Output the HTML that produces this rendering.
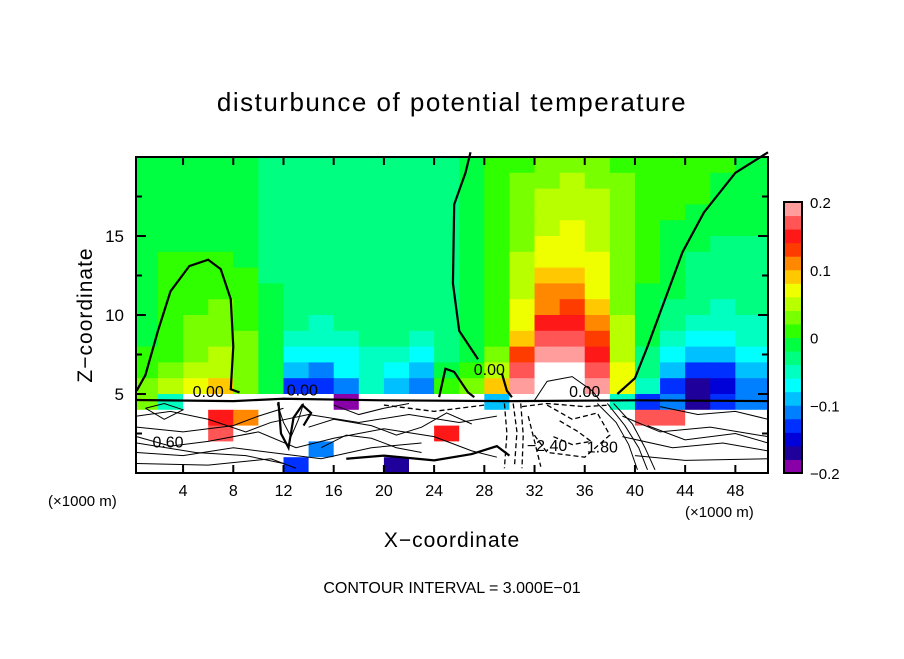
<!DOCTYPE html>
<html><head><meta charset="utf-8"><style>
body{margin:0;background:#fff;}
svg text{font-family:"Liberation Sans",sans-serif;fill:#000;}
</style></head><body>
<svg id="c" width="904" height="654" viewBox="0 0 904 654"></svg>
<script>
const xCols=[1,3,5,7,9,11,13,15,17,19,21,23,25,27,29,31,33,35,37,39,41,43,45,47,49];
const zRows=[19,18,17,16,15,14,13,12,11,10,9,8,7,6,5,4,3,2,1,0];
const theta=[
[-1,-1,-1,-1,-1,-3,-3,-3,-3,-3,-3,-3,-3,-1,1,1,3,3,3,1,1,1,1,1,-1],
[-1,-1,-1,-1,-1,-3,-3,-3,-3,-3,-3,-3,-3,-1,1,3,3,5,3,3,1,1,1,-1,-1],
[-1,-1,-1,-1,-1,-3,-3,-3,-3,-3,-3,-3,-3,-1,1,3,5,5,5,3,1,1,1,-1,-1],
[-1,-1,-1,-1,-1,-3,-3,-3,-3,-3,-3,-3,-3,-1,1,3,5,5,5,3,1,1,-1,-1,-1],
[-1,-1,-1,-1,-1,-3,-3,-3,-3,-3,-3,-3,-3,-1,1,3,5,7,5,3,1,-1,-1,-1,-1],
[-1,-1,-1,-1,-1,-3,-3,-3,-3,-3,-3,-3,-3,-1,1,3,7,7,5,3,1,-1,-1,-3,-3],
[-1,1,1,1,-1,-3,-3,-3,-3,-3,-3,-3,-3,-1,1,5,7,7,7,3,1,-1,-3,-3,-3],
[-1,1,1,1,1,-3,-3,-3,-3,-3,-3,-3,-3,-1,1,5,9,9,7,3,1,-1,-3,-3,-3],
[-1,1,1,1,1,-1,-3,-3,-3,-3,-3,-3,-3,-1,1,5,11,11,7,3,-1,-1,-3,-3,-3],
[-1,1,1,3,1,-1,-3,-3,-3,-3,-3,-3,-3,-1,1,7,11,13,9,3,-1,-3,-3,-5,-3],
[-1,1,3,3,1,-1,-3,-5,-3,-3,-3,-3,-3,-1,1,7,15,15,11,5,-1,-3,-5,-5,-5],
[-1,1,3,3,3,-1,-5,-5,-5,-3,-3,-5,-3,-1,1,9,17,17,13,5,-1,-5,-7,-7,-5],
[1,1,3,5,3,-1,-7,-7,-7,-5,-5,-7,-3,-1,3,13,19,19,15,5,-3,-7,-9,-9,-7],
[1,3,5,5,3,-1,-9,-11,-7,-5,-7,-9,-1,1,5,17,50,50,17,7,-3,-9,-13,-13,-9],
[3,5,7,9,3,-1,-13,-13,-11,-5,-9,-11,1,3,9,19,50,50,19,7,-5,-13,-17,-15,-11],
[3,-5,50,50,50,50,50,50,-19,50,50,50,50,50,-9,50,50,50,50,-5,-13,-11,-17,-13,-11],
[50,50,50,15,11,50,50,50,50,50,50,50,50,50,50,50,50,50,50,50,17,17,50,50,50],
[50,50,50,17,50,50,50,50,50,50,50,50,15,50,50,50,50,50,50,50,50,50,50,50,50],
[50,50,50,50,50,50,50,-11,50,50,50,50,50,50,50,50,50,50,50,50,50,50,50,50,50],
[50,50,50,50,50,50,-13,50,50,50,-17,50,50,50,50,50,50,50,50,50,50,50,50,50,50]];
const bandColors=["#8a00a8","#20009a","#0000d8","#0030ff","#0080ff","#00c0ff","#00ffff","#00ffc0","#00ff80","#00ff40","#30ff00","#78ff00","#b8ff00","#f0ff00","#ffc800","#ff8800","#ff3c00","#ff1818","#ff5555","#ff9c9c"];
const cbTicks=[0.2,0.1,0,-0.1,-0.2];
const cbTickLabels=["0.2","0.1","0","\u22120.1","\u22120.2"];
const xTicks=[4,8,12,16,20,24,28,32,36,40,44,48];
const zTicks=[5,10,15];
const contourZero=[
 [[0.3,5.2],[1,6.2],[2,9],[3,11.5],[4.5,13.1],[6,13.5],[7,12.9],[7.8,11],[8,8],[7.8,5.3],[8.5,5.1]],
 [[26.9,20.3],[26.5,19],[25.6,17],[25.5,12],[26,9],[27.5,7.2]],
 [[29.4,6.3],[29.8,5.2],[30.2,4.8]],
 [[50.6,20.3],[48,19],[45.5,16.5],[43.8,14],[42.4,11],[41,8],[40,6],[38.6,5]],
 [[24.4,4.8],[24.9,6.6],[25.6,6.4],[26.7,5.1],[27.2,4.8]],
 [[0.3,4.62],[8,4.55],[12,4.7],[20,4.6],[30,4.55],[40,4.6],[50.6,4.55]],
 [[17,0.9],[20,1.1],[24,0.8],[27,1.2],[29,1.7],[30,1.1]],
 [[11.6,4.5],[11.8,2.5],[12.4,1.6],[12.8,3.5],[13.5,4.3],[14.2,3.8],[13.6,3.0]]];
const contourPos=[
 [[0.3,2.3],[3,1.7],[6,2.0],[10,2.6],[13,1.6],[16,2.2],[20,2.8],[24,2.3],[27,1.4],[29,1.0]],
 [[0.3,1.3],[4,1.1],[8,1.6],[11,1.3],[15,0.9],[19,1.6],[23,1.9]],
 [[0.3,3.6],[3,3.9],[6,3.4],[9,2.6],[11,3.2],[14,3.7],[18,3.2],[22,3.7],[26,3.2],[29,3.6]],
 [[0.3,0.6],[6,0.5],[11,0.9],[13,0.3]],
 [[0.3,2.9],[4,2.6],[8,3.0],[10,3.6],[12,4.1]],
 [[0.3,1.9],[5,1.3],[9,1.1],[12,0.6]],
 [[14,2.9],[16,3.4],[19,3.0],[21,2.4],[23,2.9],[25,3.8],[27,3.1]],
 [[15,1.6],[17,2.4],[19,2.2],[21,1.6],[23,1.3]],
 [[1,4.1],[2.5,3.4],[4,4.0],[2.5,4.4],[1,4.1]],
 [[16,4.3],[18,3.7],[20,4.1],[22,4.4]],
 [[39,3.6],[42,2.6],[46,2.9],[50.6,2.3]],
 [[39,2.3],[43,1.6],[47,1.9],[50.6,1.4]],
 [[40,1.1],[44,0.8],[50.6,0.9]],
 [[41,3.0],[44,2.1],[48,2.5],[50.6,1.9]],
 [[42,4.2],[45,3.7],[48,3.9],[50.6,3.4]],
 [[32,4.6],[33,5.8],[35,6.1],[36.6,5.2],[37.2,4.6]],
 [[11.5,4.4],[12,3.2],[12.6,2.3],[13.2,3.4],[13.6,4.4]],
 [[37,4.4],[38.5,3.2],[39.5,1.8],[40.2,0.2]],
 [[37.8,4.4],[39.2,3.0],[40.3,1.6],[41,0.2]],
 [[38.3,4.4],[39.8,3.1],[40.8,1.6],[41.6,0.2]]];
const contourNeg=[
 [[31.5,3.6],[32,2.0],[32.5,0.4]],
 [[33,4.3],[35,3.4],[37,3.8],[38,2.4],[36,1.0],[33,1.3],[31.8,2.6]],
 [[34,3.3],[35.5,2.6],[36.5,2.0],[35,1.8],[33.5,2.3]],
 [[31,4.2],[33,4.4],[36,4.2],[38,4.3]],
 [[20,4.3],[24,3.9],[28,4.3]],
 [[30.3,4.4],[30.6,2.6],[30.4,0.4]],
 [[30.9,4.4],[31.1,2.4],[31.0,0.3]],
 [[29.6,4.4],[29.8,2.5],[29.6,0.3]]];

const NS="http://www.w3.org/2000/svg";
const svg=document.getElementById('c');
const L=136,R=768,T=157,B=473;
const X0=0.25,X1=50.6,Z0=0,Z1=20;
function sx(x){return L+(x-X0)/(X1-X0)*(R-L);}
function sz(z){return B-(z-Z0)/(Z1-Z0)*(B-T);}
function el(tag,attrs){const e=document.createElementNS(NS,tag);for(const k in attrs)e.setAttribute(k,attrs[k]);svg.appendChild(e);return e;}
function colorFor(v){const b=Math.floor((v/100+0.2)/0.02);if(b<0||b>19)return "#ffffff";return bandColors[b];}
const gc=el('g',{});


for(let r=0;r<zRows.length;r++){for(let c=0;c<xCols.length;c++){
 const x0=Math.max(X0,xCols[c]-1),x1=(c===xCols.length-1)?X1:xCols[c]+1;
 const z0=zRows[r],z1=Math.min(Z1,zRows[r]+1);
 const rc=document.createElementNS(NS,'rect');
 rc.setAttribute('x',sx(x0));rc.setAttribute('y',sz(z1));
 rc.setAttribute('width',sx(x1)-sx(x0)+0.6);rc.setAttribute('height',sz(z0)-sz(z1)+0.6);
 rc.setAttribute('fill',colorFor(theta[r][c]));
 
 
 gc.appendChild(rc);}}
function poly(pts,w,dash,name){const p=el('polyline',{points:pts.map(q=>sx(q[0])+','+sz(q[1])).join(' '),fill:'none',stroke:'#000','stroke-width':w});
 if(dash)p.setAttribute('stroke-dasharray',dash);
 
 }
contourZero.forEach(c=>poly(c,2.2,null,'zero-contour'));
contourPos.forEach(c=>poly(c,1,null,'positive-contour'));
contourNeg.forEach(c=>poly(c,1.3,'5,3','negative-contour'));
function txt(s,x,y,size,anchor,name,extra){const t=el('text',{x:x,y:y,'font-size':size,'text-anchor':anchor||'start'});t.textContent=s;
 if(extra)for(const k in extra)t.setAttribute(k,extra[k]);
 
 return t;}
[["0.00",6,4.8],["0.60",2.8,1.6],["0.00",13.5,4.9],["\u22122.40",33,1.4],["0.00",36,4.8],["1.80",37.4,1.3],["0.00",28.4,6.2]].forEach(l=>{
 txt(l[0],sx(l[1]),sz(l[2]),16,'middle','contour-label');});
const fr=el('rect',{x:L,y:T,width:R-L,height:B-T,fill:'none',stroke:'#000','stroke-width':2});


xTicks.forEach(v=>{const x=sx(v);
 el('line',{x1:x,y1:B,x2:x,y2:B-8,stroke:'#000','stroke-width':2});
 el('line',{x1:x,y1:T,x2:x,y2:T+8,stroke:'#000','stroke-width':2});
 txt(String(v),x,B+23,16,'middle','x-tick-label');});
for(let z=2.5;z<20;z+=2.5){const y=sz(z),len=(z%5===0)?10:6;
 el('line',{x1:L,y1:y,x2:L+len,y2:y,stroke:'#000','stroke-width':2});
 el('line',{x1:R,y1:y,x2:R-len,y2:y,stroke:'#000','stroke-width':2});}
zTicks.forEach(v=>txt(String(v),124,sz(v)+6,17,'end','y-tick-label'));
const cbL=784,cbR=802,cbT=202,cbB=473,bh=(cbB-cbT)/20;
for(let i=0;i<20;i++){const r=el('rect',{x:cbL,y:cbB-(i+1)*bh,width:cbR-cbL,height:bh+0.5,fill:bandColors[i]});
 
 }
const cf=el('rect',{x:cbL,y:cbT,width:cbR-cbL,height:cbB-cbT,fill:'none',stroke:'#000','stroke-width':2});


cbTicks.forEach((v,i)=>txt(cbTickLabels[i],810,cbB-(v+0.2)/0.4*(cbB-cbT)+6,15,'start','colorbar-label'));
txt("disturbunce of potential temperature",452,111,26,'middle','chart-title',{'letter-spacing':'1.5'});
txt("X\u2212coordinate",452,547,21,'middle','x-axis-title',{'letter-spacing':'1'});
txt("Z\u2212coordinate",0,0,21,'middle','y-axis-title',{'letter-spacing':'1',transform:'translate(92,315) rotate(-90)'});
txt("(\u00d71000 m)",48,506,15,'start','x-unit-left');
txt("(\u00d71000 m)",685,517,15,'start','x-unit-right');
txt("CONTOUR INTERVAL = 3.000E\u221201",452,593,16,'middle','contour-interval-note');
</script>
</body></html>
